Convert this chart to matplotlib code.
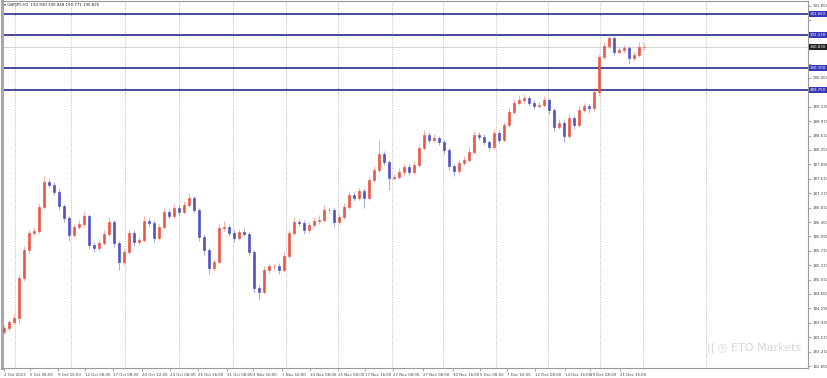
import numpy as np
import matplotlib.pyplot as plt

# H4 chart, one bar here ~ a few real candles
title = "GBPJPY,H4  190.930 190.948 190.771 190.825"
first_open = 183.70
closes = [183.80, 183.95, 184.05, 185.05, 185.75, 186.18, 186.23, 186.83, 187.45, 187.38,
          187.20, 186.85, 186.55, 186.13, 186.33, 186.40, 186.60, 185.88, 185.80, 185.93,
          186.15, 186.45, 185.93, 185.45, 185.70, 186.18, 185.95, 186.00, 186.48, 186.43,
          186.05, 186.33, 186.70, 186.60, 186.80, 186.70, 186.88, 187.05, 186.75, 186.08,
          185.75, 185.30, 185.45, 186.30, 186.33, 186.18, 186.05, 186.20, 186.15, 185.70,
          184.80, 184.70, 185.25, 185.35, 185.35, 185.25, 185.60, 186.18, 186.45, 186.43,
          186.25, 186.38, 186.48, 186.50, 186.75, 186.75, 186.45, 186.58, 186.83, 187.13,
          187.05, 187.23, 187.05, 187.50, 187.75, 188.15, 187.95, 187.55, 187.58, 187.70,
          187.83, 187.70, 187.88, 188.30, 188.63, 188.50, 188.55, 188.45, 188.25, 187.85,
          187.73, 187.93, 188.00, 188.20, 188.63, 188.58, 188.45, 188.33, 188.68, 188.50,
          188.88, 189.20, 189.43, 189.50, 189.55, 189.43, 189.35, 189.38, 189.50, 189.25,
          188.83, 188.93, 188.60, 189.05, 188.88, 189.25, 189.35, 189.30, 189.70, 190.58,
          190.85, 191.05, 190.70, 190.75, 190.80, 190.55, 190.63, 190.83, 190.83]
# wick sizes in hundredths of a yen
wick_up = [8, 6, 10, 8, 10, 6, 8, 10, 15, 8, 6, 8, 6, 5, 8, 10, 12, 6, 8, 6,
           10, 12, 6, 5, 8, 10, 6, 8, 12, 8, 6, 8, 10, 8, 10, 8, 10, 12, 6, 5,
           6, 6, 8, 12, 15, 8, 6, 8, 10, 5, 6, 8, 10, 8, 6, 8, 10, 8, 12, 8,
           6, 8, 10, 12, 12, 8, 6, 8, 10, 10, 6, 8, 6, 8, 10, 35, 8, 6, 8, 10,
           8, 6, 10, 10, 12, 8, 10, 6, 6, 5, 6, 8, 10, 12, 10, 8, 6, 6, 10, 6,
           8, 10, 10, 12, 10, 6, 8, 8, 10, 6, 6, 10, 6, 10, 6, 10, 8, 6, 10, 8,
           10, 10, 6, 8, 8, 6, 8, 12, 10]
wick_dn = [6, 8, 5, 15, 8, 10, 6, 8, 6, 6, 8, 10, 10, 15, 6, 5, 8, 10, 10, 8,
           6, 6, 10, 20, 8, 6, 10, 8, 6, 8, 10, 6, 6, 8, 6, 8, 6, 6, 8, 10,
           12, 15, 8, 6, 8, 8, 10, 6, 6, 10, 12, 20, 6, 8, 8, 10, 5, 6, 6, 8,
           10, 8, 6, 8, 6, 8, 12, 6, 6, 6, 8, 6, 25, 6, 6, 6, 8, 30, 6, 6,
           8, 8, 6, 6, 6, 8, 6, 8, 10, 10, 12, 6, 6, 6, 6, 8, 8, 10, 6, 8,
           6, 6, 6, 6, 8, 8, 8, 6, 6, 10, 10, 6, 14, 6, 10, 6, 6, 12, 8, 10,
           6, 6, 8, 6, 8, 14, 8, 6, 8]

levels = [191.65, 191.13, 190.30, 189.75]
bid = 190.83

price_ticks = [182.85, 183.21, 183.57, 183.93, 184.29, 184.65, 185.01, 185.37, 185.73,
               186.09, 186.45, 186.81, 187.17, 187.53, 187.89, 188.25, 188.61, 188.97,
               189.33, 189.69, 190.05, 190.41, 190.77, 191.13, 191.49, 191.85]

date_labels = ["2 Oct 2023", "5 Oct 08:00", "9 Oct 16:00", "12 Oct 08:00", "17 Oct 08:00",
               "20 Oct 12:00", "24 Oct 08:00", "26 Oct 16:00", "31 Oct 08:00", "3 Nov 16:00",
               "7 Nov 16:00", "10 Nov 08:00", "15 Nov 08:00", "17 Nov 16:00", "22 Nov 08:00",
               "27 Nov 08:00", "30 Nov 16:00", "5 Dec 08:00", "7 Dec 16:00", "12 Dec 08:00",
               "14 Dec 16:00", "19 Dec 08:00", "21 Dec 16:00"]
date_pos = [0, 5.2, 10.8, 16.2, 21.8, 27.6, 33.2, 38.8, 44.6, 49.8, 55.6, 61.2,
            66.8, 72.2, 77.8, 83.8, 89.8, 95.2, 100.6, 106.2, 112.2, 117.2, 123.2]
separators = [2.2, 13.4, 24.2, 35, 45.8, 56.4, 66.8, 77.6, 87.8, 98.4, 108.8, 119.2, 127.8, 140.4]

opens = [first_open] + closes[:-1]
x = np.arange(len(closes))
highs = [max(o, c) + u / 100 for o, c, u in zip(opens, closes, wick_up)]
lows = [min(o, c) - d / 100 for o, c, d in zip(opens, closes, wick_dn)]

bull = '#e8503e'
bear = '#4a4ac0'
cols = [bull if c >= o else bear for o, c in zip(opens, closes)]

fig = plt.figure(figsize=(8.28, 3.78), dpi=100)
ax = fig.add_axes([2/828, 10/378, 806/828, 367/378])

for s in separators:
    ax.axvline(s, color='#b8b8b8', ls=(0, (1, 1.5)), lw=0.7, zorder=0)
ax.axhline(bid, color='#cccccc', lw=0.6, zorder=0)
for lv in levels:
    ax.axhline(lv, color='#3a3a94', lw=1.3, zorder=1)

ax.vlines(x, lows, highs, colors=cols, lw=0.6, alpha=0.55, zorder=2)
body = [c - o for o, c in zip(opens, closes)]
ax.bar(x, body, bottom=opens, width=0.38, color=cols, edgecolor=cols, lw=0.5, alpha=0.9, zorder=3)

ax.set_xlim(-0.4, 160.8)
ax.set_ylim(182.80, 191.975)

# scale labels hidden under the price boxes
boxed = levels + [bid]
ylabels = ["" if min(abs(p - b) for b in boxed) < 0.17 else f"{p:.3f}" for p in price_ticks]

ax.yaxis.tick_right()
ax.set_yticks(price_ticks)
ax.set_yticklabels(ylabels, fontsize=2.8, color='#444444')
ax.tick_params(axis='y', length=2, width=0.4, pad=1.5, colors='#666666', labelcolor='#444444')
ax.set_xticks(date_pos)
ax.set_xticklabels(date_labels, fontsize=2.8, ha='left', color='#444444')
ax.tick_params(axis='x', length=2, width=0.4, pad=1.5, colors='#666666', labelcolor='#444444')

for side in ['top', 'right', 'bottom']:
    ax.spines[side].set_color('#999999')
    ax.spines[side].set_linewidth(0.8)
ax.spines['left'].set_color('#a8a8a8')
ax.spines['left'].set_linewidth(2.2)

# level price boxes on the scale
for lv in levels:
    ax.text(1.002, lv, f"{lv:.3f}", transform=ax.get_yaxis_transform(), fontsize=2.8,
            color='white', va='center', ha='left',
            bbox=dict(boxstyle='square,pad=0.25', fc='#3838b8', ec='none'))
ax.text(1.002, bid, f"{bid:.3f}", transform=ax.get_yaxis_transform(), fontsize=2.8,
        color='white', va='center', ha='left',
        bbox=dict(boxstyle='square,pad=0.25', fc='#222222', ec='none'))

fig.text(4/828, 1 - 5/378, "\u25be " + title, fontsize=2.9, color='#222222', va='center')
fig.text(707/828, 1 - 348/378, "|| \u25ce ETO Markets", fontsize=8, color='#d6d6d6', va='center')

fig.savefig('out.png', dpi=100)
